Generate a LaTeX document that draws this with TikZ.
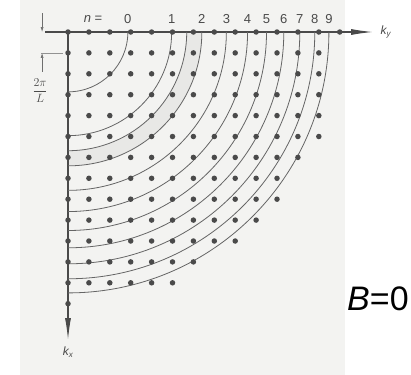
\documentclass[tikz,border=0pt]{standalone}
\usepackage{fontspec}
\setmainfont{Liberation Sans}
\setsansfont{Liberation Sans}
\usepackage{tikz}
\usetikzlibrary{positioning, arrows.meta, calc}

\definecolor{scan}{HTML}{F3F3F1}
\definecolor{ink}{HTML}{4A4A4A}
\definecolor{band}{HTML}{E8E8E6}

\tikzset{
	kdot/.style={circle, fill=ink, inner sep=0pt, minimum size=5.5pt},
	level/.style={draw=ink!85, line width=0.8pt},
	nlabel/.style={font=\fontsize{13}{13}\selectfont, text=ink, inner sep=0pt},
	axis/.style={draw=ink, line width=1.2pt},
}

\begin{document}
\begin{tikzpicture}[x=20.9pt, y=20.9pt]
	\useasboundingbox (-3.254,1.531) rectangle (16.411,-16.411);
	\fill[scan] (-2.30,1.531) rectangle (13.25,-16.411);
	% shaded shell around n=2
	\fill[band] (5.68,0) arc[start angle=0, end angle=-90, radius=5.68] -- (0,-6.40) arc[start angle=-90, end angle=0, radius=6.40] -- cycle;
	\coordinate (O) at (0,0);
	\coordinate (kyend) at (14.6,0);
	\coordinate (kxend) at (0,-14.74);
	\coordinate (axleft) at (-1.1,0);
	\draw[axis, -{Latex[length=22pt, width=6pt]}] (axleft) -- (kyend);
	\draw[axis, -{Latex[length=22pt, width=6pt]}] (O) -- (kxend);
	\node[font=\itshape\fontsize{12}{12}\selectfont, text=ink, right=4pt of kyend] (ky) {k\textsubscript{y}};
	\node[font=\itshape\fontsize{12}{12}\selectfont, text=ink, below=3pt of kxend] (kx) {k\textsubscript{x}};
	% spacing 2pi/L
	\coordinate (t1) at (-1.24,0.9);
	\coordinate (t2) at (-1.24,0);
	\coordinate (s1) at (-1.24,-1.9);
	\coordinate (s2) at (-1.24,-1);
	\coordinate (s3) at (-0.26,-1);
	\draw[draw=ink!80, line width=0.6pt, -{Latex[length=5pt, width=3pt]}] (t1) -- (t2);
	\draw[draw=ink!80, line width=0.6pt, -{Latex[length=5pt, width=3pt]}] (s1) -- (s2);
	\draw[draw=ink!60, line width=0.6pt] ($(s2)+(-0.05,0)$) -- (s3);
	\node[text=ink, font=\fontsize{13}{13}\selectfont, inner sep=0pt] (len) at (-1.34,-2.8) {$\displaystyle\frac{2\pi}{L}$};
	% Landau circles
	\draw[level] (5.68,0) arc[start angle=0, end angle=-90, radius=5.68];
	\foreach \n in {0,...,9} {
		\pgfmathsetmacro{\r}{4.05*sqrt(\n+0.5)}
		\draw[level] (\r,0) arc[start angle=0, end angle=-90, radius=\r];
		\node[nlabel] (lab\n) at (\r,0.62) {\n};
	}
	\node[nlabel] (neq) at (1.2,0.62) {\textit{n} =};
	% lattice points
	\foreach \i in {0,...,13} {
		\foreach \j in {0,...,13} {
			\pgfmathtruncatemacro{\rr}{\i*\i+\j*\j}
			\ifnum\rr<170
				\node[kdot] (d-\i-\j) at (\i,-\j) {};
			\fi
		}
	}
	\node[font=\fontsize{34}{34}\selectfont, inner sep=0pt] (bzero) at (14.83,-12.78) {\textit{B}=0};
\end{tikzpicture}
\end{document}
